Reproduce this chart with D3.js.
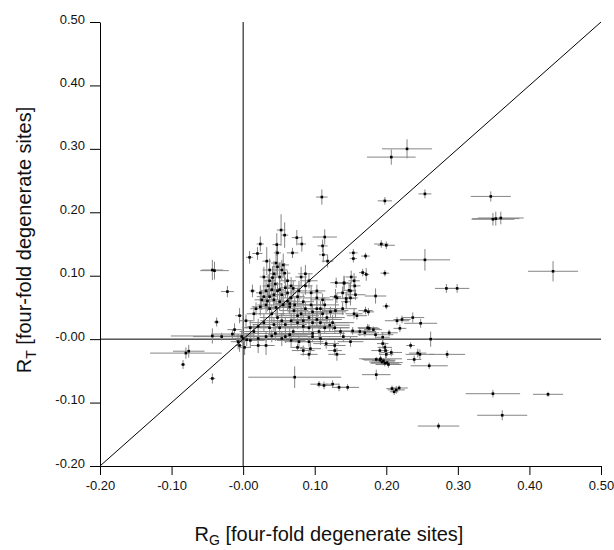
<!DOCTYPE html>
<html>
<head>
<meta charset="utf-8">
<script src="https://cdn.jsdelivr.net/npm/d3@7"></script>
<style>
  body { margin: 0; background: #fff; }
  text { font-family: "Liberation Sans", Arial, Helvetica, sans-serif; }
</style>
</head>
<body>
<script>
// rows: [R_G, R_T, R_G error, R_T error]
var spreadPoints = [
  [0.229, 0.300, 0.035, 0.015], [0.207, 0.287, 0.034, 0.012], [0.110, 0.224, 0.008, 0.012],
  [0.254, 0.229, 0.009, 0.007], [0.198, 0.218, 0.010, 0.006], [0.346, 0.225, 0.028, 0.008],
  [0.349, 0.189, 0.030, 0.010], [0.353, 0.190, 0.033, 0.011], [0.360, 0.191, 0.032, 0.010],
  [0.254, 0.125, 0.035, 0.017], [0.433, 0.107, 0.035, 0.016], [0.284, 0.080, 0.016, 0.007],
  [0.299, 0.080, 0.017, 0.007], [0.198, 0.104, 0.006, 0.005], [0.193, 0.150, 0.010, 0.006],
  [0.200, 0.148, 0.012, 0.006], [0.200, 0.052, 0.005, 0.005], [0.185, 0.068, 0.015, 0.012],
  [-0.043, 0.109, 0.015, 0.016], [-0.040, 0.108, 0.020, 0.014], [-0.022, 0.075, 0.009, 0.009],
  [-0.037, 0.027, 0.004, 0.007], [-0.043, 0.005, 0.058, 0.012], [-0.080, -0.022, 0.050, 0.009],
  [-0.076, -0.019, 0.022, 0.010], [-0.084, -0.040, 0.003, 0.007], [-0.043, -0.062, 0.004, 0.008],
  [0.072, -0.060, 0.065, 0.017], [0.106, -0.071, 0.012, 0.005], [0.113, -0.073, 0.010, 0.006],
  [0.125, -0.071, 0.009, 0.006], [0.134, -0.076, 0.010, 0.006], [0.146, -0.076, 0.016, 0.005],
  [0.186, -0.056, 0.020, 0.008], [0.208, -0.078, 0.008, 0.005], [0.211, -0.083, 0.006, 0.005],
  [0.214, -0.080, 0.012, 0.006], [0.218, -0.077, 0.012, 0.004], [0.349, -0.086, 0.038, 0.006],
  [0.426, -0.087, 0.021, 0.004], [0.362, -0.120, 0.035, 0.008], [0.273, -0.137, 0.029, 0.005],
  [0.262, 0.000, 0.004, 0.012], [0.260, -0.042, 0.026, 0.005], [0.285, -0.024, 0.025, 0.006],
  [0.237, 0.034, 0.016, 0.008], [0.248, 0.025, 0.023, 0.007], [0.222, 0.031, 0.012, 0.006],
  [0.215, 0.029, 0.017, 0.006], [0.219, 0.017, 0.009, 0.006], [0.204, 0.010, 0.012, 0.005],
  [0.234, -0.010, 0.006, 0.005], [0.244, -0.022, 0.012, 0.007], [0.247, -0.024, 0.020, 0.008],
  [0.239, -0.032, 0.010, 0.006], [0.186, -0.032, 0.020, 0.004], [0.191, -0.033, 0.022, 0.004],
  [0.194, -0.036, 0.018, 0.005], [0.196, -0.034, 0.016, 0.004], [0.198, -0.038, 0.020, 0.005],
  [0.201, -0.037, 0.022, 0.004], [0.203, -0.040, 0.018, 0.005], [0.192, -0.031, 0.030, 0.005],
  [0.199, -0.018, 0.004, 0.012], [-0.030, 0.004, 0.040, 0.006], [-0.015, 0.008, 0.030, 0.008]
];

var clusterPoints = [
  [0.053, 0.172, 0.006, 0.025], [0.058, 0.164, 0.005, 0.020], [0.075, 0.160, 0.007, 0.012],
  [0.082, 0.150, 0.006, 0.012], [0.069, 0.136, 0.008, 0.008], [0.047, 0.149, 0.006, 0.018],
  [0.024, 0.150, 0.005, 0.012], [0.020, 0.135, 0.007, 0.010], [0.009, 0.129, 0.005, 0.010],
  [0.033, 0.123, 0.006, 0.022], [0.048, 0.136, 0.005, 0.016], [0.114, 0.161, 0.017, 0.012],
  [0.111, 0.147, 0.007, 0.010], [0.112, 0.133, 0.006, 0.012], [0.118, 0.123, 0.008, 0.010],
  [0.154, 0.136, 0.006, 0.006], [0.154, 0.127, 0.005, 0.006], [0.171, 0.131, 0.006, 0.005],
  [0.167, 0.105, 0.005, 0.006], [0.172, 0.102, 0.004, 0.010], [0.155, 0.092, 0.008, 0.012],
  [0.141, 0.089, 0.006, 0.010], [0.130, 0.089, 0.008, 0.008], [0.156, 0.084, 0.008, 0.014],
  [0.150, 0.076, 0.006, 0.014], [0.139, 0.073, 0.008, 0.010], [0.150, 0.065, 0.010, 0.012],
  [0.144, 0.059, 0.007, 0.010], [0.129, 0.067, 0.008, 0.012], [0.131, 0.065, 0.006, 0.008],
  [0.157, 0.070, 0.014, 0.008], [0.171, 0.045, 0.010, 0.006], [0.175, 0.043, 0.008, 0.006],
  [0.155, 0.040, 0.012, 0.008], [0.159, 0.037, 0.014, 0.006], [0.139, 0.048, 0.020, 0.010],
  [0.129, 0.045, 0.018, 0.012], [0.122, 0.043, 0.022, 0.008], [0.111, 0.040, 0.030, 0.010],
  [0.117, 0.034, 0.025, 0.010], [0.125, 0.026, 0.030, 0.012], [0.121, 0.022, 0.028, 0.010],
  [0.128, 0.018, 0.020, 0.008], [0.136, 0.012, 0.026, 0.006], [0.174, 0.018, 0.014, 0.006],
  [0.182, 0.015, 0.012, 0.005], [0.163, 0.012, 0.022, 0.007], [0.185, 0.007, 0.025, 0.006],
  [0.195, 0.003, 0.010, 0.008], [0.195, -0.007, 0.008, 0.008], [0.198, -0.013, 0.010, 0.008],
  [0.191, -0.018, 0.012, 0.006], [0.200, -0.024, 0.010, 0.006], [0.207, -0.021, 0.015, 0.006],
  [0.128, -0.010, 0.015, 0.008], [0.128, -0.018, 0.010, 0.008], [0.131, -0.024, 0.012, 0.010],
  [0.116, -0.007, 0.018, 0.008], [0.108, 0.001, 0.030, 0.010], [0.097, 0.004, 0.025, 0.008],
  [0.092, -0.004, 0.020, 0.008], [0.094, -0.015, 0.015, 0.010], [0.092, -0.024, 0.012, 0.008],
  [0.084, -0.018, 0.016, 0.008], [0.076, -0.013, 0.010, 0.006], [0.078, -0.004, 0.020, 0.008],
  [0.065, 0.007, 0.030, 0.010], [0.070, 0.012, 0.035, 0.008], [0.059, 0.004, 0.040, 0.010],
  [0.045, 0.009, 0.045, 0.012], [0.040, 0.005, 0.050, 0.010], [0.032, 0.004, 0.040, 0.008],
  [0.021, 0.001, 0.030, 0.010], [0.010, -0.002, 0.020, 0.012], [0.005, -0.001, 0.015, 0.010],
  [0.000, 0.001, 0.012, 0.008], [-0.002, 0.004, 0.030, 0.010], [-0.007, -0.004, 0.010, 0.012],
  [-0.005, -0.010, 0.006, 0.010], [0.002, -0.013, 0.008, 0.012], [-0.012, 0.015, 0.010, 0.010],
  [-0.005, 0.037, 0.006, 0.012], [0.004, 0.029, 0.010, 0.010], [0.010, 0.018, 0.012, 0.012],
  [0.015, 0.012, 0.020, 0.010], [0.021, 0.020, 0.015, 0.012], [0.029, 0.026, 0.020, 0.014],
  [0.015, 0.040, 0.010, 0.012], [0.018, 0.048, 0.008, 0.010], [0.024, 0.051, 0.012, 0.014],
  [0.013, 0.076, 0.004, 0.010], [0.024, 0.073, 0.006, 0.012], [0.032, 0.076, 0.008, 0.018],
  [0.026, 0.062, 0.010, 0.016], [0.032, 0.054, 0.012, 0.014], [0.037, 0.048, 0.015, 0.018],
  [0.040, 0.040, 0.018, 0.014], [0.048, 0.034, 0.025, 0.016], [0.054, 0.029, 0.030, 0.012],
  [0.043, 0.023, 0.030, 0.010], [0.037, 0.018, 0.035, 0.012], [0.051, 0.018, 0.028, 0.010],
  [0.059, 0.023, 0.030, 0.012], [0.067, 0.029, 0.025, 0.012], [0.076, 0.026, 0.030, 0.010],
  [0.084, 0.020, 0.040, 0.010], [0.092, 0.018, 0.035, 0.008], [0.097, 0.026, 0.030, 0.010],
  [0.103, 0.031, 0.035, 0.012], [0.092, 0.034, 0.040, 0.010], [0.081, 0.040, 0.030, 0.012],
  [0.071, 0.045, 0.020, 0.014], [0.065, 0.051, 0.015, 0.012], [0.056, 0.054, 0.012, 0.016],
  [0.051, 0.059, 0.010, 0.014], [0.043, 0.062, 0.012, 0.016], [0.037, 0.067, 0.010, 0.020],
  [0.043, 0.070, 0.008, 0.016], [0.048, 0.076, 0.012, 0.014], [0.054, 0.070, 0.010, 0.018],
  [0.062, 0.073, 0.012, 0.014], [0.067, 0.065, 0.015, 0.012], [0.076, 0.067, 0.010, 0.014],
  [0.065, 0.056, 0.020, 0.012], [0.072, 0.054, 0.025, 0.010], [0.084, 0.059, 0.015, 0.012],
  [0.095, 0.054, 0.020, 0.010], [0.103, 0.048, 0.030, 0.012], [0.097, 0.043, 0.035, 0.010],
  [0.108, 0.048, 0.015, 0.012], [0.087, 0.048, 0.025, 0.010], [0.037, 0.092, 0.008, 0.020],
  [0.045, 0.087, 0.010, 0.018], [0.051, 0.098, 0.008, 0.022], [0.043, 0.103, 0.006, 0.020],
  [0.037, 0.109, 0.010, 0.018], [0.054, 0.109, 0.008, 0.016], [0.048, 0.114, 0.006, 0.014],
  [0.056, 0.117, 0.008, 0.018], [0.062, 0.092, 0.012, 0.016], [0.067, 0.084, 0.010, 0.014],
  [0.059, 0.081, 0.008, 0.016], [0.051, 0.078, 0.006, 0.020], [0.081, 0.098, 0.008, 0.016],
  [0.087, 0.103, 0.010, 0.014], [0.092, 0.092, 0.012, 0.012], [0.087, 0.084, 0.010, 0.014],
  [0.078, 0.076, 0.012, 0.016], [0.095, 0.073, 0.015, 0.012], [0.103, 0.076, 0.012, 0.010],
  [0.103, 0.065, 0.018, 0.012], [0.111, 0.062, 0.015, 0.010], [0.114, 0.054, 0.020, 0.012],
  [0.029, 0.098, 0.006, 0.016], [0.035, 0.084, 0.008, 0.018], [0.029, 0.067, 0.010, 0.016],
  [0.076, 0.037, 0.030, 0.012], [0.084, 0.029, 0.035, 0.010], [0.108, 0.026, 0.040, 0.010],
  [0.114, 0.018, 0.035, 0.008], [0.106, 0.012, 0.040, 0.010], [0.097, 0.009, 0.045, 0.008],
  [0.067, -0.002, 0.020, 0.010], [0.054, 0.001, 0.030, 0.012], [0.032, -0.010, 0.012, 0.015],
  [0.021, -0.010, 0.010, 0.012], [0.140, 0.004, 0.020, 0.008], [0.150, -0.004, 0.018, 0.008],
  [0.153, 0.013, 0.025, 0.006], [0.176, 0.017, 0.015, 0.006], [0.170, 0.010, 0.020, 0.006],
  [0.144, 0.064, 0.012, 0.010], [0.148, 0.077, 0.010, 0.012], [0.151, 0.098, 0.008, 0.010],
  [0.141, 0.088, 0.010, 0.012], [0.041, 0.097, 0.006, 0.018], [0.046, 0.120, 0.007, 0.020],
  [0.058, 0.104, 0.008, 0.016], [0.040, 0.078, 0.010, 0.016], [0.062, 0.060, 0.012, 0.014],
  [0.070, 0.080, 0.010, 0.012], [0.034, 0.060, 0.010, 0.016], [0.046, 0.050, 0.016, 0.014]
];

var xTicks = [-0.2, -0.1, 0, 0.1, 0.2, 0.3, 0.4, 0.5];
var xTickLabels = ["-0.20", "-0.10", "-0.00", "0.10", "0.20", "0.30", "0.40", "0.50"];
var yTicks = [-0.2, -0.1, 0, 0.1, 0.2, 0.3, 0.4, 0.5];
var yTickLabels = ["-0.20", "-0.10", "-0.00", "0.10", "0.20", "0.30", "0.40", "0.50"];

var width = 614, height = 550;

var svg = d3.select('body').append('svg')
  .attr('width', width).attr('height', height);

var x = d3.scaleLinear().domain([-0.2, 0.5]).range([100, 601]);
var y = d3.scaleLinear().domain([-0.2, 0.5]).range([466, 22]);

var allPoints = spreadPoints.concat(clusterPoints);

// reference lines: R_G = 0, R_T = 0
svg.append('line')
  .attr('x1', x(0)).attr('x2', x(0)).attr('y1', y(0.5)).attr('y2', y(-0.2))
  .attr('stroke', '#000').attr('stroke-width', 1);
svg.append('line')
  .attr('x1', x(-0.2)).attr('x2', x(0.5)).attr('y1', y(0)).attr('y2', y(0))
  .attr('stroke', '#000').attr('stroke-width', 1);

// error bars
var bars = svg.append('g').attr('stroke', '#858585').attr('stroke-width', 1);
bars.selectAll('line.h').data(allPoints).enter().append('line')
  .attr('class', 'h')
  .attr('x1', function(d) { return x(d[0] - d[2]); })
  .attr('x2', function(d) { return x(d[0] + d[2]); })
  .attr('y1', function(d) { return y(d[1]); })
  .attr('y2', function(d) { return y(d[1]); });
bars.selectAll('line.v').data(allPoints).enter().append('line')
  .attr('class', 'v')
  .attr('x1', function(d) { return x(d[0]); })
  .attr('x2', function(d) { return x(d[0]); })
  .attr('y1', function(d) { return y(d[1] - d[3]); })
  .attr('y2', function(d) { return y(d[1] + d[3]); });

// diagonal R_T = R_G
svg.append('line')
  .attr('x1', x(-0.2)).attr('y1', y(-0.2)).attr('x2', x(0.5)).attr('y2', y(0.5))
  .attr('stroke', '#000').attr('stroke-width', 1);

// points
svg.append('g').selectAll('rect').data(allPoints).enter().append('rect')
  .attr('x', function(d) { return x(d[0]) - 1.3; })
  .attr('y', function(d) { return y(d[1]) - 1.3; })
  .attr('width', 2.6).attr('height', 2.6)
  .attr('fill', '#000');

// axes
var xAxis = d3.axisBottom(x).tickValues(xTicks)
  .tickFormat(function(d, i) { return xTickLabels[i]; })
  .tickSize(9).tickSizeOuter(0).tickPadding(6);
var gx = svg.append('g').attr('transform', 'translate(0,' + y(-0.2) + ')').call(xAxis);

var yAxis = d3.axisLeft(y).tickValues(yTicks)
  .tickFormat(function(d, i) { return yTickLabels[i]; })
  .tickSize(10).tickSizeOuter(0).tickPadding(5);
var gy = svg.append('g').attr('transform', 'translate(' + x(-0.2) + ',0)').call(yAxis);

[gx, gy].forEach(function(g) {
  g.selectAll('text').attr('font-size', 13).attr('font-family', '"Liberation Sans", Arial, sans-serif').attr('fill', '#111');
  g.selectAll('path, line').attr('stroke', '#000');
});
gy.selectAll('text').attr('dy', '0.08em');

// axis titles
var xTitle = svg.append('text')
  .attr('x', 329).attr('y', 541)
  .attr('text-anchor', 'middle').attr('font-size', 20).attr('fill', '#111');
xTitle.append('tspan').text('R');
xTitle.append('tspan').attr('font-size', 14).attr('dy', 4).text('G');
xTitle.append('tspan').attr('dy', -4).text(' [four-fold degenerate sites]');

var yTitle = svg.append('text')
  .attr('transform', 'translate(31,240) rotate(-90)')
  .attr('text-anchor', 'middle').attr('font-size', 20).attr('fill', '#111');
yTitle.append('tspan').text('R');
yTitle.append('tspan').attr('font-size', 14).attr('dy', 5).text('T');
yTitle.append('tspan').attr('dy', -5).text(' [four-fold degenerate sites]');
</script>
</body>
</html>
